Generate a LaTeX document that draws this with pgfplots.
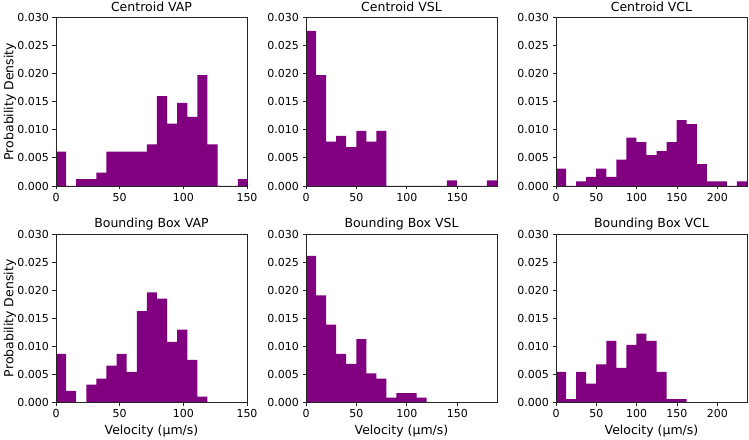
\documentclass[border=0pt]{standalone}
\usepackage{pgfplots}
\pgfplotsset{compat=1.18}
\usepackage{fontspec}
\setmainfont{DejaVu Sans}
\definecolor{hpurple}{RGB}{128,0,128}
\pgfplotsset{
  hist/.style={
    scale only axis, width=191pt, height=168.7pt,
    anchor=south west,
    xmin=0, ymin=0, ymax=0.03,
    ytick={0,0.005,0.01,0.015,0.02,0.025,0.03},
    scaled y ticks=false,
    yticklabel style={/pgf/number format/fixed, /pgf/number format/fixed zerofill, /pgf/number format/precision=3},
    /pgf/number format/assume math mode=true,
    tick align=outside, tick pos=left,
    major tick length=3.5pt,
    axis line style={black!85, line width=0.8pt},
    every tick/.style={black!85, line width=0.8pt},
    tick label style={font=\fontsize{11}{13}\selectfont, black},
    every axis title/.style={at={(0.5,1)}, anchor=base, yshift=6pt, font=\fontsize{12.5}{15}\selectfont},
    every axis x label/.style={at={(0.5,0)}, anchor=base, yshift=-31.9pt, font=\fontsize{12.5}{15}\selectfont},
    every axis y label/.style={at={(axis description cs:-0.241,0.5)}, rotate=90, anchor=center, font=\fontsize{12.5}{15}\selectfont},
    axis on top,
  },
  bars/.style={ybar interval, fill=hpurple, draw=none},
}
\begin{document}
\begin{tikzpicture}
\useasboundingbox (0,0) rectangle (749pt,439pt);
% Top row
\begin{axis}[hist, at={(56pt,253pt)}, xmax=150, xtick={0,50,100,150},
  title={Centroid VAP}, ylabel={Probability Density}]
\addplot[bars] coordinates {(0,0.0061) (7.93,0) (15.86,0.0012) (23.79,0.0012) (31.72,0.0024) (39.65,0.0061) (47.58,0.0061) (55.51,0.0061) (63.44,0.0061) (71.37,0.0074) (79.3,0.016) (87.23,0.0111) (95.16,0.0148) (103.09,0.0123) (111.02,0.0197) (118.95,0.0074) (126.88,0) (134.81,0) (142.74,0.0012) (150.67,0)};
\end{axis}
\begin{axis}[hist, at={(306pt,253pt)}, xmax=189.4, xtick={0,50,100,150},
  title={Centroid VSL}]
\addplot[bars] coordinates {(0,0.0276) (9.97,0.0197) (19.94,0.0079) (29.91,0.0089) (39.88,0.0069) (49.85,0.0098) (59.82,0.0079) (69.79,0.0098) (79.76,0) (89.73,0) (99.7,0) (109.67,0) (119.64,0) (129.61,0) (139.58,0.001) (149.55,0) (159.52,0) (169.49,0) (179.46,0.001) (189.43,0)};
\end{axis}
\begin{axis}[hist, at={(556pt,253pt)}, xmax=236.9, xtick={0,50,100,150,200},
  title={Centroid VCL}]
\addplot[bars] coordinates {(0,0.0031) (12.47,0) (24.94,0.0008) (37.41,0.0016) (49.88,0.0031) (62.35,0.0016) (74.82,0.0047) (87.29,0.0086) (99.76,0.0078) (112.23,0.0055) (124.7,0.0062) (137.17,0.0078) (149.64,0.0117) (162.11,0.011) (174.58,0.0039) (187.05,0.0008) (199.52,0.0008) (211.99,0) (224.46,0.0008) (236.93,0)};
\end{axis}
% Bottom row
\begin{axis}[hist, at={(56pt,36.3pt)}, xmax=150, xtick={0,50,100,150},
  title={Bounding Box VAP}, ylabel={Probability Density}, xlabel={Velocity (µm/s)}]
\addplot[bars] coordinates {(0,0.0087) (7.93,0.0021) (15.86,0) (23.79,0.0032) (31.72,0.0043) (39.65,0.0066) (47.58,0.0087) (55.51,0.0055) (63.44,0.0163) (71.37,0.0196) (79.3,0.0185) (87.23,0.0108) (95.16,0.013) (103.09,0.0076) (111.02,0.0011) (118.95,0)};
\end{axis}
\begin{axis}[hist, at={(306pt,36.3pt)}, xmax=189.4, xtick={0,50,100,150},
  title={Bounding Box VSL}, xlabel={Velocity (µm/s)}]
\addplot[bars] coordinates {(0,0.0261) (9.97,0.0191) (19.94,0.0139) (29.91,0.0087) (39.88,0.0069) (49.85,0.0113) (59.82,0.0052) (69.79,0.0043) (79.76,0.0009) (89.73,0.0017) (99.7,0.0017) (109.67,0.0009) (119.64,0)};
\end{axis}
\begin{axis}[hist, at={(556pt,36.3pt)}, xmax=236.9, xtick={0,50,100,150,200},
  title={Bounding Box VCL}, xlabel={Velocity (µm/s)}]
\addplot[bars] coordinates {(0,0.0055) (12.47,0.00065) (24.94,0.0055) (37.41,0.0034) (49.88,0.0068) (62.35,0.011) (74.82,0.0062) (87.29,0.0103) (99.76,0.0123) (112.23,0.011) (124.7,0.0055) (137.17,0.00065) (149.64,0.00065) (162.11,0)};
\end{axis}
\end{tikzpicture}
\end{document}
